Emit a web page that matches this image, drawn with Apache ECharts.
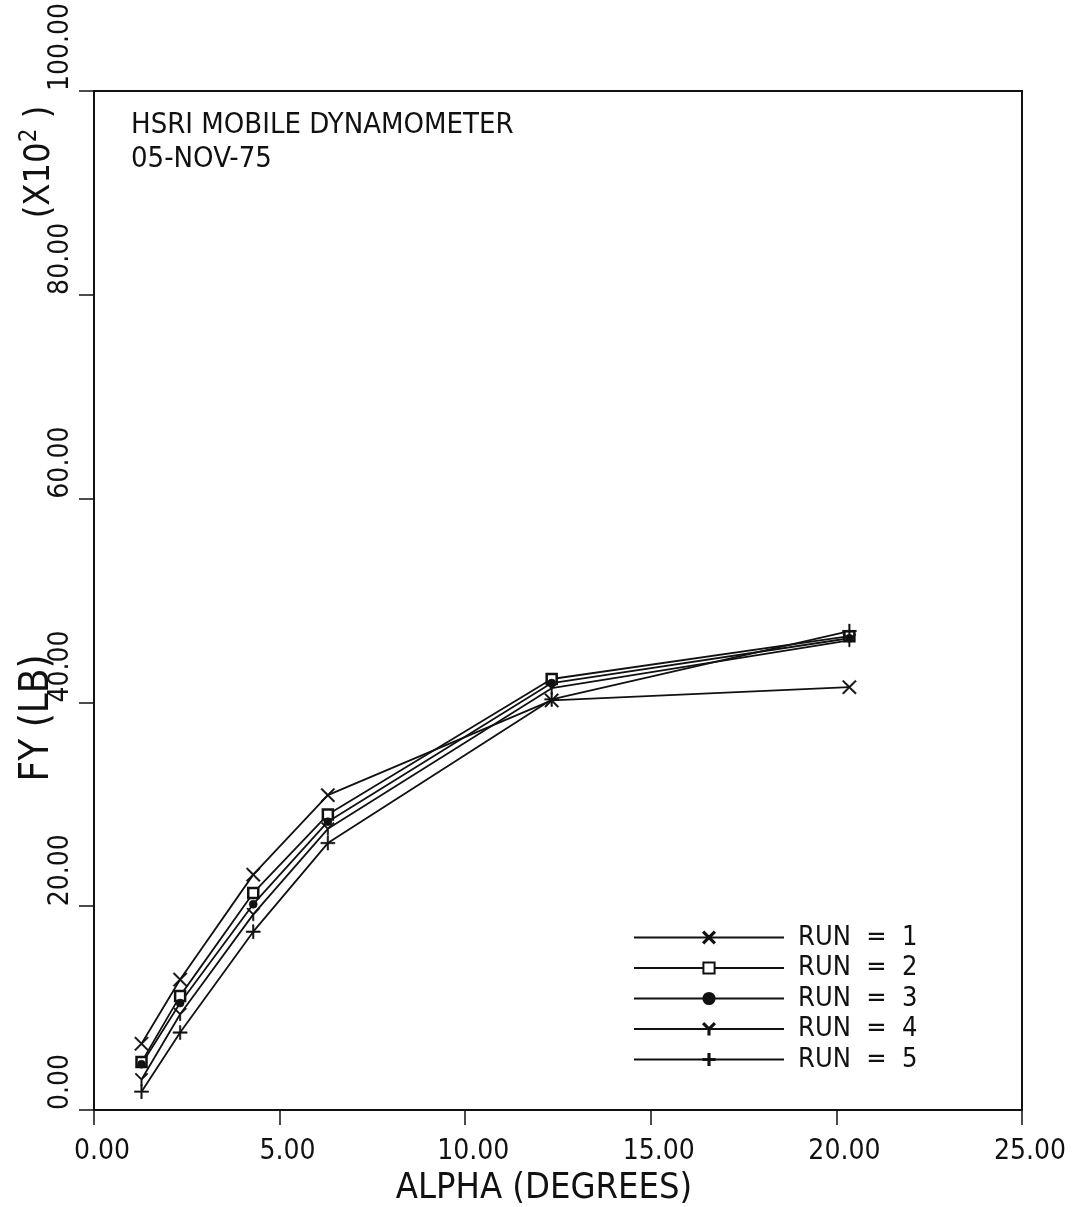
<!DOCTYPE html>
<html>
<head>
<meta charset="utf-8">
<script src="https://cdn.jsdelivr.net/npm/echarts@6/dist/echarts.min.js"></script>
<style>
html,body{margin:0;padding:0;background:#fff;}
#chart{width:1090px;height:1207px;}
</style>
</head>
<body>
<div id="chart"></div>
<script>
// ---- data ----
const alpha = [1.28, 2.32, 4.29, 6.30, 12.33, 20.35];
const run1 = [6.5, 12.8, 23.1, 30.9, 40.2, 41.5];
const run2 = [4.7, 11.2, 21.3, 29.0, 42.3, 46.5];
const run3 = [4.5, 10.5, 20.2, 28.3, 41.9, 46.3];
const run4 = [3.0, 9.4, 19.2, 27.6, 41.4, 46.1];
const run5 = [1.8, 7.6, 17.5, 26.2, 40.3, 47.0];
const runNames = ['RUN  =  1', 'RUN  =  2', 'RUN  =  3', 'RUN  =  4', 'RUN  =  5'];
const titleLines = ['HSRI MOBILE DYNAMOMETER', '05-NOV-75'];
const xName = 'ALPHA (DEGREES)';
const yName = 'FY (LB)';

const FONT = "'DejaVu Sans Condensed', 'DejaVu Sans', sans-serif";
const INK = '#111';

const symX = 'path://M0,1.5 L1.5,0 L10,8.5 L18.5,0 L20,1.5 L11.5,10 L20,18.5 L18.5,20 L10,11.5 L1.5,20 L0,18.5 L8.5,10 Z';
const symPlus = 'path://M9,0 H11 V9 H20 V11 H11 V20 H9 V11 H0 V9 H9 Z';
const symY = 'path://M0,1.5 L1.5,0 L10,8.5 L18.5,0 L20,1.5 L11,10.5 V20 H9 V10.5 Z';

const runs = [run1, run2, run3, run4, run5];
const symbols = [
  {symbol: symX, size: 14, fill: INK},
  {symbol: 'rect', size: 10, fill: '#fff'},
  {symbol: 'circle', size: 8, fill: INK},
  {symbol: symY, size: 13, fill: INK},
  {symbol: symPlus, size: 14, fill: INK}
];

const series = runs.map((r, i) => ({
  name: runNames[i],
  type: 'line',
  data: alpha.map((a, j) => [a, r[j]]),
  symbol: symbols[i].symbol,
  symbolSize: symbols[i].size,
  showAllSymbol: true,
  lineStyle: {color: INK, width: 1.8},
  itemStyle: {color: symbols[i].fill, borderColor: INK, borderWidth: i === 1 ? 2.5 : 0.6},
  emphasis: {disabled: true},
  z: 3
}));

const chart = echarts.init(document.getElementById('chart'), null, {renderer: 'canvas'});
chart.setOption({
  backgroundColor: '#fff',
  animation: false,
  title: {
    text: titleLines.join('\n'),
    left: 126, top: 103,
    textStyle: {fontFamily: FONT, fontSize: 29, fontWeight: 'normal', color: INK, lineHeight: 34}
  },
  legend: {
    orient: 'vertical',
    left: 628, top: 919,
    itemWidth: 150, itemHeight: 14, itemGap: 3.5,
    textStyle: {fontFamily: FONT, fontSize: 27, color: INK, lineHeight: 27, padding: [0, 0, 0, 9]},
    data: runNames
  },
  grid: {left: 94, top: 91, right: 68, bottom: 97, show: true, borderColor: INK, borderWidth: 2, backgroundColor: 'transparent'},
  xAxis: {
    type: 'value', min: 0, max: 25, interval: 5,
    axisLine: {show: true, lineStyle: {color: INK, width: 2}},
    axisTick: {show: true, length: 15, lineStyle: {color: INK, width: 1.5}},
    axisLabel: {fontFamily: FONT, fontSize: 28, color: INK, margin: 28, padding: [0, 0, 0, 16], formatter: v => v.toFixed(2)},
    splitLine: {show: false}
  },
  yAxis: {
    type: 'value', min: 0, max: 100, interval: 20,
    axisLine: {show: true, lineStyle: {color: INK, width: 2}},
    axisTick: {show: true, length: 15, lineStyle: {color: INK, width: 1.5}},
    axisLabel: {fontFamily: FONT, fontSize: 28, color: INK, margin: 33, rotate: 90,
      align: 'left', verticalAlign: 'middle', formatter: v => v.toFixed(2)},
    splitLine: {show: false}
  },
  graphic: [
    {type: 'text', x: 544, y: 1189,
      style: {text: xName, font: '36px ' + FONT, fill: INK, align: 'center', verticalAlign: 'middle', textAlign: 'center', textVerticalAlign: 'middle'}},
    {type: 'text', x: 38, y: 718, rotation: Math.PI / 2,
      style: {text: yName, font: '40px ' + FONT, fill: INK, align: 'center', verticalAlign: 'middle', textAlign: 'center', textVerticalAlign: 'middle'}},
    {type: 'text', x: 40, y: 162, rotation: Math.PI / 2,
      style: {
        text: '{a|(X10}{s|2}{a| )}',
        fill: INK, align: 'center', verticalAlign: 'middle', textAlign: 'center', textVerticalAlign: 'middle',
        rich: {
          a: {fontFamily: FONT, fontSize: 36, fill: INK, color: INK, lineHeight: 44},
          s: {fontFamily: FONT, fontSize: 24, fill: INK, color: INK, verticalAlign: 'top', lineHeight: 44, padding: [0, 0, 14, 0]}
        }
      }}
  ],
  series: series
});
</script>
</body>
</html>
